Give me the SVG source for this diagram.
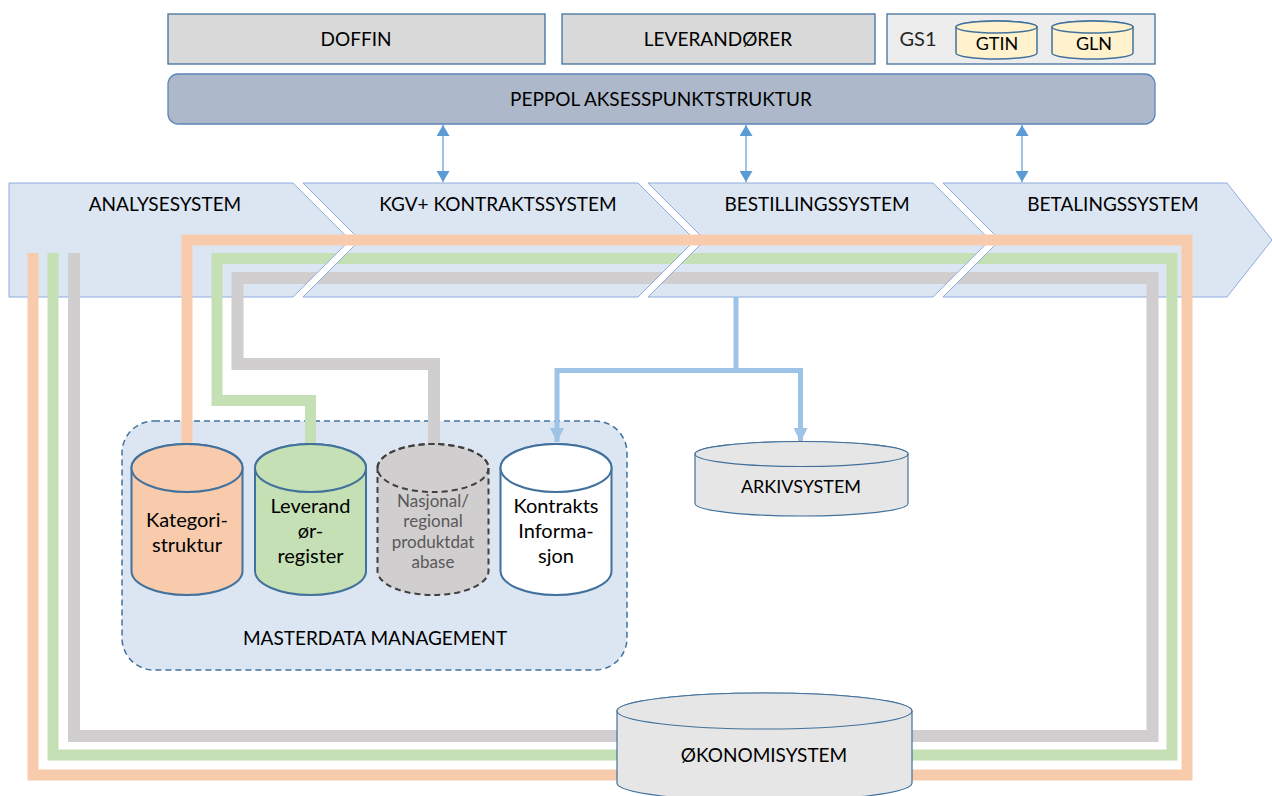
<svg xmlns="http://www.w3.org/2000/svg" width="1272" height="796" viewBox="0 0 1272 796">
<defs>
<style>
text{font-family:Lato,"Liberation Sans",sans-serif;fill:#000;text-anchor:middle}
.t19{font-size:19px}
.t18{font-size:18px}
.cyl20{font-size:20px}
.small{font-size:17px;fill:#595959}
.topbox{fill:#d9d9d9;stroke:#41719c;stroke-width:1.3}
.chev{fill:#dce6f2;stroke:#8faadc;stroke-width:1}
.gap{fill:#fff;stroke:none}
.gapedge{stroke:#8faadc;stroke-width:1;fill:none}
.line{fill:none;stroke-linejoin:miter;stroke-linecap:butt}
.mdcyl{stroke:#41719c;stroke-width:2}
.sys{fill:#e7e6e6;stroke:#41719c;stroke-width:1.2}
.blue{fill:none;stroke:#9dc3e6;stroke-width:5}
.dbl{fill:none;stroke:#9dc3e6;stroke-width:2}
</style>
<marker id="arrBlue" markerUnits="userSpaceOnUse" markerWidth="14" markerHeight="14" viewBox="0 0 14 14" refX="14" refY="7" orient="auto">
<path d="M0,0 L14,7 L0,14 Z" fill="#9dc3e6"/>
</marker>
<marker id="arrDbl" markerUnits="userSpaceOnUse" markerWidth="11" markerHeight="13" viewBox="0 0 11 13" refX="11" refY="6.5" orient="auto-start-reverse">
<path d="M0,0 L11,6.5 L0,13 Z" fill="#5b9bd5"/>
</marker>
</defs>
<rect width="1272" height="796" fill="#fff"/>

<g id="doffin"><rect class="topbox" x="168" y="14" width="377" height="50"/><text class="t19" x="356" y="46">DOFFIN</text></g>
<g id="leverandorer"><rect class="topbox" x="562" y="14" width="313" height="50"/><text class="t19" x="718" y="46">LEVERANDØRER</text></g>
<g id="gs1">
<rect x="887" y="14" width="268" height="50" fill="#ededed" stroke="#41719c" stroke-width="1.3"/>
<text x="918" y="46" style="fill:#262626;font-size:20px">GS1</text>
<g id="gtin"><path d="M956,27 A40.5,6 0 0 1 1037,27 V53 A40.5,6 0 0 1 956,53 Z" fill="#fff2cc" stroke="#41719c" stroke-width="1.5"/><ellipse cx="996.5" cy="27" rx="40.5" ry="6" fill="#fff2cc" stroke="#41719c" stroke-width="1.5"/><text class="t18" x="997" y="50">GTIN</text></g>
<g id="gln"><path d="M1052,27 A40.5,6 0 0 1 1133,27 V53 A40.5,6 0 0 1 1052,53 Z" fill="#fff2cc" stroke="#41719c" stroke-width="1.5"/><ellipse cx="1092.5" cy="27" rx="40.5" ry="6" fill="#fff2cc" stroke="#41719c" stroke-width="1.5"/><text class="t18" x="1094" y="50">GLN</text></g>
</g>
<g id="peppol"><rect x="168" y="74" width="987" height="50" rx="10" fill="#adb9ca" stroke="#5b84b9" stroke-width="1.3"/><text class="t19" x="661" y="106">PEPPOL AKSESSPUNKTSTRUKTUR</text></g>

<g id="analysesystem"><polygon class="chev" points="9,183 293,183 350,240 293,297 9,297"/><text class="t19" x="165" y="211">ANALYSESYSTEM</text></g>
<g id="kontraktssystem"><polygon class="chev" points="303,183 638,183 695,240 638,297 303,297 360,240"/><text class="t19" x="498" y="211">KGV+ KONTRAKTSSYSTEM</text></g>
<g id="bestillingssystem"><polygon class="chev" points="648,183 933,183 990,240 933,297 648,297 705,240"/><text class="t19" x="817" y="211">BESTILLINGSSYSTEM</text></g>
<g id="betalingssystem"><polygon class="chev" points="943,183 1227,183 1272,240 1227,297 943,297 1000,240"/><text class="t19" x="1113" y="211">BETALINGSSYSTEM</text></g>

<g id="masterdata"><rect x="122" y="421" width="505" height="249" rx="32" fill="#dce6f2" stroke="#41719c" stroke-width="1.5" stroke-dasharray="6,4"/><text class="t19" x="375" y="645">MASTERDATA MANAGEMENT</text></g>

<g id="connectors">
<path class="line" stroke="#f8cbad" stroke-width="11" d="M33,253 V775 H1187 V240 H187 V450"/>
<path class="line" stroke="#c5e0b4" stroke-width="11" d="M53,253 V755 H1172 V258.5 H217 V400.5 H310.5 V450"/>
<path class="line" stroke="#d0cece" stroke-width="12" d="M74,253 V736 H1152.5 V278 H237.5 V364 H434 V450"/>
<polygon class="gap" points="344,246 354,246 303,297 293,297"/>
<polygon class="gap" points="689,246 699,246 648,297 638,297"/>
<polygon class="gap" points="984,246 994,246 943,297 933,297"/>
<path class="gapedge" d="M344,246 L293,297 M354,246 L303,297 M689,246 L638,297 M699,246 L648,297 M984,246 L933,297 M994,246 L943,297"/>
<path class="dbl" d="M443,125 V182" marker-start="url(#arrDbl)" marker-end="url(#arrDbl)"/>
<path class="dbl" d="M746,125 V182" marker-start="url(#arrDbl)" marker-end="url(#arrDbl)"/>
<path class="dbl" d="M1022,125 V182" marker-start="url(#arrDbl)" marker-end="url(#arrDbl)"/>
<path class="blue" d="M736,297 V370.5"/>
<path class="blue" d="M736,370.5 H557 V442" marker-end="url(#arrBlue)"/>
<path class="blue" d="M736,370.5 H800.5 V442" marker-end="url(#arrBlue)"/>
</g>

<g id="kategori"><path class="mdcyl" fill="#f8cbad" d="M131.5,468 A55.5,24 0 0 1 242.5,468 V571 A55.5,24 0 0 1 131.5,571 Z"/><ellipse class="mdcyl" fill="#f8cbad" cx="187" cy="468" rx="55.5" ry="24"/><text class="cyl20" x="187" y="527">Kategori-</text><text class="cyl20" x="187" y="552">struktur</text></g>
<g id="leverandorregister"><path class="mdcyl" fill="#c5e0b4" d="M255,468 A55.5,24 0 0 1 366,468 V571 A55.5,24 0 0 1 255,571 Z"/><ellipse class="mdcyl" fill="#c5e0b4" cx="310.5" cy="468" rx="55.5" ry="24"/><text class="cyl20" x="310.5" y="512.5">Leverand</text><text class="cyl20" x="310.5" y="538">ør-</text><text class="cyl20" x="310.5" y="563">register</text></g>
<g id="produktdatabase"><path fill="#d0cece" stroke="#404040" stroke-width="2" stroke-dasharray="6,4" d="M377.5,468 A55.5,24 0 0 1 488.5,468 V571 A55.5,24 0 0 1 377.5,571 Z"/><ellipse fill="none" stroke="#404040" stroke-width="2" stroke-dasharray="6,4" cx="433" cy="468" rx="55.5" ry="24"/><text class="small" x="433" y="507">Nasjonal/</text><text class="small" x="433" y="527">regional</text><text class="small" x="433" y="548">produktdat</text><text class="small" x="433" y="568">abase</text></g>
<g id="kontraktsinformasjon"><path class="mdcyl" fill="#fff" d="M500.5,468 A55.5,24 0 0 1 611.5,468 V571 A55.5,24 0 0 1 500.5,571 Z"/><ellipse class="mdcyl" fill="#fff" cx="556" cy="468" rx="55.5" ry="24"/><text class="cyl20" x="556" y="513">Kontrakts</text><text class="cyl20" x="556" y="538">Informa-</text><text class="cyl20" x="556" y="563">sjon</text></g>

<g id="arkivsystem"><path class="sys" d="M695,454 A106.5,12.5 0 0 1 908,454 V503.5 A106.5,12.5 0 0 1 695,503.5 Z"/><ellipse class="sys" cx="801.5" cy="454" rx="106.5" ry="12.5"/><text class="t18" x="801" y="492.5">ARKIVSYSTEM</text></g>
<g id="okonomisystem"><path class="sys" d="M617,711 A147.5,18 0 0 1 912,711 V783 A147.5,18 0 0 1 617,783 Z"/><ellipse class="sys" cx="764.5" cy="711" rx="147.5" ry="18"/><text class="t19" x="764" y="762">ØKONOMISYSTEM</text></g>
</svg>
